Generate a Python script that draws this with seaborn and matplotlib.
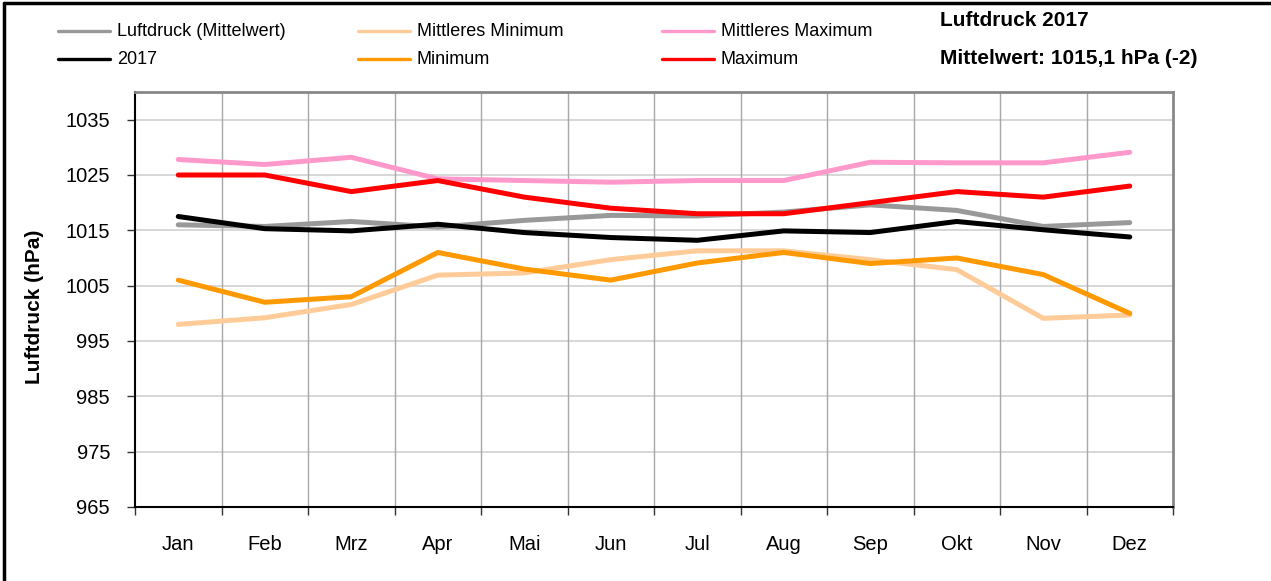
#!/usr/bin/env python
# encoding: utf-8

import numpy as np
import pandas as pd
import matplotlib
matplotlib.use("Agg")
import matplotlib.pyplot as plt
from matplotlib.lines import Line2D
import seaborn as sns

# Monthly air pressure values (hPa)
months = ["Jan", "Feb", "Mrz", "Apr", "Mai", "Jun",
          "Jul", "Aug", "Sep", "Okt", "Nov", "Dez"]
mittelwert = [1016.0, 1015.7, 1016.6, 1015.6, 1016.8, 1017.7,
              1017.6, 1018.3, 1019.6, 1018.6, 1015.7, 1016.4]
mittl_minimum = [998.0, 999.2, 1001.6, 1006.9, 1007.3, 1009.7,
                 1011.3, 1011.3, 1009.7, 1007.9, 999.1, 999.7]
mittl_maximum = [1027.8, 1026.9, 1028.2, 1024.3, 1024.0, 1023.7,
                 1024.0, 1024.0, 1027.3, 1027.2, 1027.2, 1029.1]
jahr_2017 = [1017.5, 1015.3, 1014.9, 1016.1, 1014.6, 1013.7,
             1013.2, 1014.9, 1014.6, 1016.6, 1015.1, 1013.8]
minimum = [1006.0, 1002.0, 1003.0, 1011.0, 1008.0, 1006.0,
           1009.1, 1011.0, 1009.0, 1010.0, 1007.0, 1000.0]
maximum = [1025.0, 1025.0, 1022.0, 1024.0, 1021.0, 1019.0,
           1018.0, 1018.0, 1020.0, 1022.0, 1021.0, 1023.0]

series_names = ["Luftdruck (Mittelwert)", "2017", "Mittleres Minimum",
                "Minimum", "Mittleres Maximum", "Maximum"]
series_values = [mittelwert, jahr_2017, mittl_minimum,
                 minimum, mittl_maximum, maximum]
series_colors = ["#999999", "#000000", "#FFCC99",
                 "#FF9900", "#FF99CC", "#FF0000"]
# draw order: background series first
draw_order = [0, 2, 4, 1, 3, 5]

yticks = [965, 975, 985, 995, 1005, 1015, 1025, 1035]

W, H = 1271, 581


def build_df():
    rows = []
    for name, vals in zip(series_names, series_values):
        for i, v in enumerate(vals):
            rows.append({"serie": name, "pos": i, "monat": months[i], "hPa": v})
    return pd.DataFrame(rows)


def fx(px):
    return px / W


def fy(py):
    return 1 - py / H


def draw_legend(fig):
    # Excel style legend: 3 columns x 2 rows, handle then text
    col_x = [58, 358, 662]
    row_y = [31, 59]
    handle_len = 52
    for k, (name, color) in enumerate(zip(series_names, series_colors)):
        col, row = k // 2, k % 2
        x0 = col_x[col]
        y0 = row_y[row]
        fig.add_artist(Line2D([fx(x0), fx(x0 + handle_len)], [fy(y0), fy(y0)],
                              color=color, lw=2.4, transform=fig.transFigure))
        fig.text(fx(x0 + handle_len + 7), fy(y0), name, fontsize=13,
                 va="center", ha="left")


def main():
    sns.set_style("white")
    plt.rcParams["font.family"] = ["Liberation Sans", "DejaVu Sans"]
    plt.rcParams["text.color"] = "black"
    plt.rcParams["axes.labelcolor"] = "black"
    plt.rcParams["xtick.labelcolor"] = "black"
    plt.rcParams["ytick.labelcolor"] = "black"

    df = build_df()

    fig = plt.figure(figsize=(W / 100, H / 100), dpi=100)
    ax = fig.add_axes([fx(135), fy(507), (1173 - 135) / W, (507 - 92) / H])

    for i in draw_order:
        sub = df[df["serie"] == series_names[i]]
        sns.lineplot(data=sub, x="pos", y="hPa", color=series_colors[i],
                     linewidth=3.6, ax=ax, legend=False, zorder=3 + draw_order.index(i))

    ax.set_xlim(-0.5, 11.5)
    ax.set_ylim(965, 1040)

    # grid lines: horizontal at y ticks, vertical at category borders
    for y in yticks:
        ax.axhline(y, color="#d4d4d4", lw=1.3, zorder=1)
    borders = np.arange(-0.5, 12.0, 1.0)
    for x in borders[1:-1]:
        ax.axvline(x, color="#a8a8a8", lw=1.0, zorder=1)

    ax.set_yticks(yticks)
    ax.set_yticklabels([str(y) for y in yticks], fontsize=14.5)
    ax.set_xticks(borders)
    ax.set_xticklabels([])
    ax.set_xticks(np.arange(12), minor=True)
    ax.set_xticklabels(months, minor=True, fontsize=14.5)
    ax.tick_params(axis="x", which="major", direction="out", length=6, width=1, color="#333333")
    ax.tick_params(axis="x", which="minor", length=0, pad=20)
    ax.tick_params(axis="y", direction="out", length=6, width=1, color="#333333", pad=12)
    ax.tick_params(left=True, bottom=True)

    ax.set_xlabel("")
    ax.set_ylabel("Luftdruck (hPa)", fontsize=15, fontweight="bold", va="center")
    ax.yaxis.set_label_coords((35 - 135) / (1173 - 135), 0.5 - (307 - 300) / 415)

    for side in ["left", "bottom"]:
        ax.spines[side].set_color("#000000")
        ax.spines[side].set_linewidth(1.5)
    for side in ["top", "right"]:
        ax.spines[side].set_color("#888888")
        ax.spines[side].set_linewidth(2)
        ax.spines[side].set_visible(True)

    draw_legend(fig)

    fig.text(fx(940), fy(21), "Luftdruck 2017", fontsize=15,
             fontweight="bold", va="center", ha="left")
    fig.text(fx(940), fy(58), "Mittelwert: 1015,1 hPa (-2)", fontsize=15,
             fontweight="bold", va="center", ha="left")

    # frame around the chart (only left and top edges visible)
    fig.add_artist(Line2D([fx(4), fx(4)], [0, fy(3)], color="black", lw=2.5,
                          transform=fig.transFigure))
    fig.add_artist(Line2D([fx(4), 1], [fy(3), fy(3)], color="black", lw=2.5,
                          transform=fig.transFigure))

    plt.savefig("out.png", dpi=100)


if __name__ == '__main__':
    main()
